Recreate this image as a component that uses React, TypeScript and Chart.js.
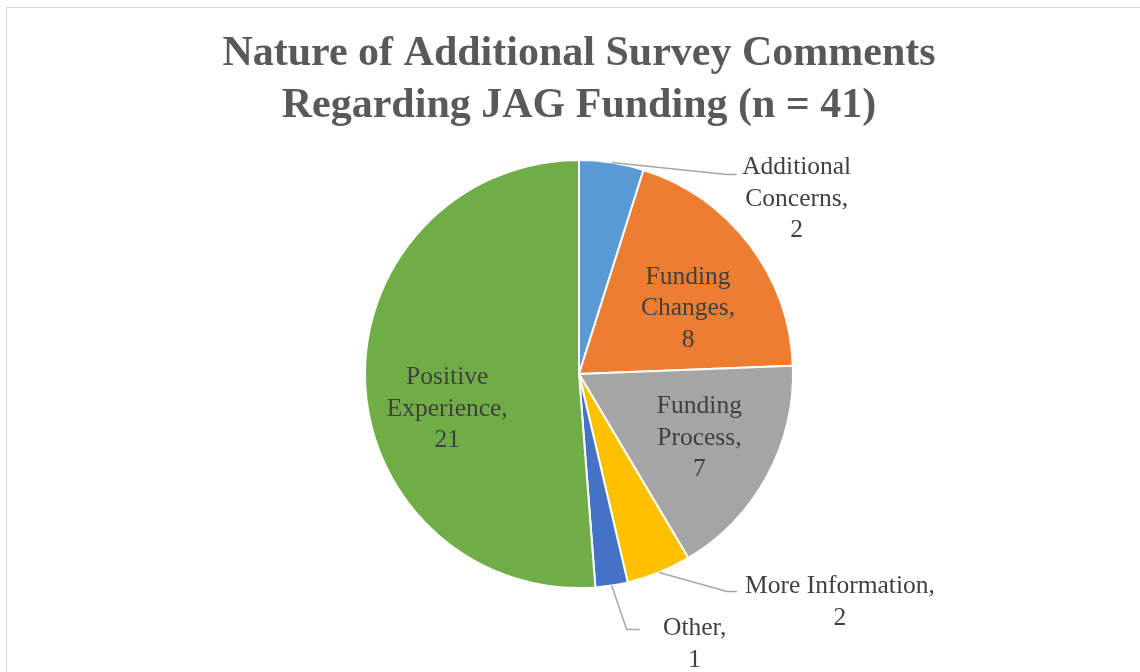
import React, { useEffect, useRef } from "react";
import { Chart, registerables } from "chart.js";

Chart.register(...registerables);

const categories = [
  "Additional Concerns",
  "Funding Changes",
  "Funding Process",
  "More Information",
  "Other",
  "Positive Experience",
];
const values = [2, 8, 7, 2, 1, 21];
const labelLines = [
  ["Additional", "Concerns,"],
  ["Funding", "Changes,"],
  ["Funding", "Process,"],
  ["More Information,"],
  ["Other,"],
  ["Positive", "Experience,"],
];
const titleLines = ["Nature of Additional Survey Comments", "Regarding JAG Funding (n = 41)"];
const colors = ["#5B9BD5", "#ED7D31", "#A5A5A5", "#FFC000", "#4472C4", "#70AD47"];

// label placement (style): inside labels at a fraction of radius along mid angle plus nudge;
// outside labels get a leader line (elbow offset, horizontal tail) and text offset
const placement = [
  { outside: true, elbow: [115, 12], tail: 10, text: [60, -7] },
  { outside: false, frac: 0.635, nudge: [1, 17] },
  { outside: false, frac: 0.635, nudge: [1, -1] },
  { outside: true, elbow: [68, 19], tail: 10, text: [103, -5] },
  { outside: true, elbow: [15, 44], tail: 13, text: [55, -1] },
  { outside: false, frac: 0.635, nudge: [4, 30] },
];

const FONT = '"Liberation Serif", "Times New Roman", serif';
const LABEL_SIZE = 25.5;
const LINE_H = 31.5;

const labelPlugin = {
  id: "pieLabels",
  afterDatasetsDraw(chart: any) {
    const ctx = chart.ctx;
    const meta = chart.getDatasetMeta(0);
    ctx.save();
    meta.data.forEach((arc: any, i: number) => {
      const p = arc.getProps(["x", "y", "startAngle", "endAngle", "outerRadius"], true);
      const mid = (p.startAngle + p.endAngle) / 2;
      const lines = [...labelLines[i], String(values[i])];
      const cfg: any = placement[i];
      let cx: number, firstY: number;
      if (cfg.outside) {
        const ex = p.x + Math.cos(mid) * p.outerRadius;
        const ey = p.y + Math.sin(mid) * p.outerRadius;
        const bx = ex + cfg.elbow[0];
        const by = ey + cfg.elbow[1];
        const tx = bx + cfg.tail;
        ctx.strokeStyle = "#A6A6A6";
        ctx.lineWidth = 1.5;
        ctx.beginPath();
        ctx.moveTo(ex, ey);
        ctx.lineTo(bx, by);
        ctx.lineTo(tx, by);
        ctx.stroke();
        cx = tx + cfg.text[0];
        firstY = by + cfg.text[1];
      } else {
        const d = p.outerRadius * cfg.frac;
        cx = p.x + Math.cos(mid) * d + cfg.nudge[0];
        const cy = p.y + Math.sin(mid) * d + cfg.nudge[1];
        firstY = cy - ((lines.length - 1) * LINE_H) / 2;
      }
      ctx.fillStyle = "#404040";
      ctx.font = `${LABEL_SIZE}px ${FONT}`;
      ctx.textAlign = "center";
      ctx.textBaseline = "middle";
      lines.forEach((t, k) => ctx.fillText(t, cx, firstY + k * LINE_H));
    });
    ctx.restore();
  },
  afterDraw(chart: any) {
    const ctx = chart.ctx;
    ctx.save();
    ctx.fillStyle = "#595959";
    ctx.font = `bold 42px ${FONT}`;
    ctx.textAlign = "center";
    ctx.textBaseline = "alphabetic";
    ctx.fillText(titleLines[0], 579, 65);
    ctx.fillText(titleLines[1], 579, 117);
    ctx.restore();
  },
};

export default function App() {
  const ref = useRef<HTMLCanvasElement | null>(null);
  useEffect(() => {
    if (!ref.current) return;
    const chart = new Chart(ref.current, {
      type: "pie",
      data: {
        labels: categories,
        datasets: [
          {
            data: values,
            backgroundColor: colors,
            borderColor: "#FFFFFF",
            borderWidth: 2,
          },
        ],
      },
      options: {
        responsive: false,
        animation: false,
        layout: { padding: { top: 159, bottom: 83, left: 300, right: 282 } },
        plugins: {
          legend: { display: false },
          tooltip: { enabled: false },
          title: { display: false },
        },
      },
      plugins: [labelPlugin],
    });
    return () => chart.destroy();
  }, []);
  return (
    <div style={{ position: "absolute", left: 0, top: 0, width: 1140, height: 672, overflow: "hidden", background: "#fff" }}>
      <div
        style={{
          position: "absolute",
          left: 6,
          top: 7,
          width: 1200,
          height: 700,
          border: "1.5px solid #D9D9D9",
          boxSizing: "border-box",
        }}
      />
      <canvas ref={ref} width={1140} height={672} style={{ position: "absolute", left: 0, top: 0 }} />
    </div>
  );
}
